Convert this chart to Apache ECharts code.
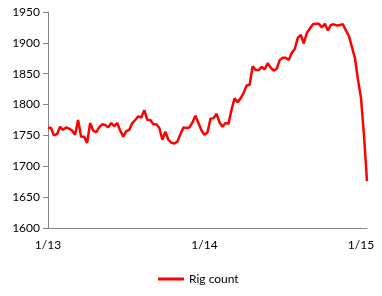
<!DOCTYPE html>
<html>
<head>
<meta charset="utf-8">
<script src="https://cdn.jsdelivr.net/npm/echarts@6/dist/echarts.min.js"></script>
<style>html,body{margin:0;padding:0;background:#fff}#c{width:382px;height:296px}</style>
</head>
<body>
<div id="c"></div>
<script>
// Weekly dates (Fridays) starting 2013-01-04
var startDate = '2013-01-04';
var seriesName = 'Rig count';
var rigCount = [
1763,1762,1750,1752,1764,1759,1763,1761,1758,1751,
1775,1748,1748,1738,1770,1758,1755,1763,1768,1767,
1763,1770,1765,1770,1758,1748,1757,1759,1770,1775,
1781,1779,1791,1775,1775,1768,1768,1762,1743,1756,
1743,1738,1737,1740,1752,1763,1762,1763,1771,1782,
1770,1758,1751,1755,1777,1778,1785,1771,1764,1770,
1769,1792,1810,1804,1810,1819,1831,1832,1862,1856,
1856,1861,1857,1867,1860,1855,1858,1872,1876,1876,
1872,1884,1890,1908,1913,1899,1916,1923,1930,1931,
1931,1925,1931,1920,1929,1930,1928,1929,1930,1920,
1911,1893,1875,1840,1811,1750,1676
];
var yTicks = [1600,1650,1700,1750,1800,1850,1900,1950];

var dates = [];
(function(){
  var d = new Date(startDate + 'T00:00:00Z');
  for (var i = 0; i < rigCount.length; i++) {
    var dd = new Date(d.getTime() + i*7*86400000);
    dates.push(dd.toISOString().slice(0,10));
  }
})();

function isYearStart(idx){
  var s = dates[idx];
  if (!s) return false;
  var m = +s.slice(5,7), day = +s.slice(8,10);
  return m === 1 && day <= 7;
}

var chart = echarts.init(document.getElementById('c'));
var font = 'Lato, "Open Sans", sans-serif';
chart.setOption({
  animation: false,
  grid: {left: 48, right: 15, top: 12, bottom: 68},
  xAxis: {
    type: 'category',
    data: dates,
    boundaryGap: false,
    axisLine: {lineStyle: {color: '#868686', width: 1}},
    axisTick: {show: false},
    splitLine: {show: false},
    axisLabel: {
      interval: function(i){ return isYearStart(i); },
      formatter: function(v){ return (+v.slice(5,7)) + '/' + v.slice(2,4); },
      color: '#000', fontSize: 12, fontFamily: font, margin: 11
    }
  },
  yAxis: {
    type: 'value',
    min: yTicks[0], max: yTicks[yTicks.length-1], interval: 50,
    axisLine: {show: true, lineStyle: {color: '#868686', width: 1}},
    axisTick: {show: true, length: 5, lineStyle: {color: '#868686'}},
    splitLine: {show: false},
    axisLabel: {color: '#000', fontSize: 12, fontFamily: font, margin: 8,
      formatter: function(v){ return String(v); }}
  },
  legend: {
    data: [seriesName],
    left: 153, top: 268,
    itemWidth: 26, itemHeight: 3, itemGap: 5,
    icon: 'rect',
    textStyle: {color: '#000', fontSize: 12, fontFamily: font}
  },
  series: [{
    name: seriesName,
    type: 'line',
    data: rigCount,
    showSymbol: false,
    symbol: 'none',
    lineStyle: {color: '#FF0000', width: 2.5},
    itemStyle: {color: '#FF0000'}
  }]
});
</script>
</body>
</html>
